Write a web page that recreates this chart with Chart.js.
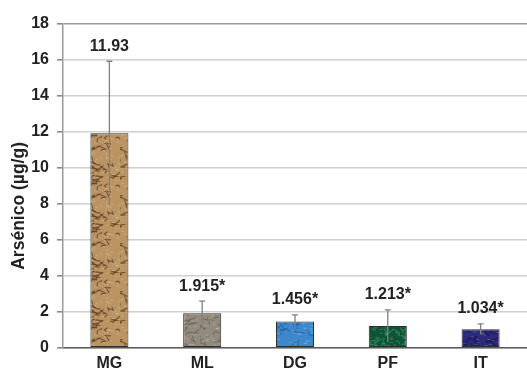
<!DOCTYPE html>
<html>
<head>
<meta charset="utf-8">
<script src="https://cdn.jsdelivr.net/npm/chart.js@4.4.1/dist/chart.umd.min.js"></script>
<style>
  html, body { margin: 0; padding: 0; background: #fff; }
  #wrap { width: 527px; height: 379px; position: relative; }
</style>
</head>
<body>
<div id="wrap"><canvas id="chart"></canvas></div>
<script>
const categories = ['MG', 'ML', 'DG', 'PF', 'IT'];
const arsenic = [11.93, 1.915, 1.456, 1.213, 1.034];
const errors = [4.0, 0.68, 0.37, 0.9, 0.3];
const valueLabels = ['11.93', '1.915*', '1.456*', '1.213*', '1.034*'];
const yTicks = [0, 2, 4, 6, 8, 10, 12, 14, 16, 18];
const yTitle = 'Arsénico (µg/g)';

const baseColors = ['#bb9464', '#928b7d', '#3d88cc', '#0e5538', '#2c2a7a'];
const inkColors = ['#5a3b1c', '#6a6356', '#2565a3', '#2c8a5a', '#1a1850'];
const FONT = '"Liberation Sans", Arial, sans-serif';

// small deterministic noise so the bar fills look like crumpled paper
function makeTexture(base, ink, seed) {
  const c = document.createElement('canvas');
  c.width = 40; c.height = 48;
  const g = c.getContext('2d');
  g.fillStyle = base;
  g.fillRect(0, 0, 40, 48);
  let s = seed;
  const rnd = () => { s = (s * 16807) % 2147483647; return s / 2147483647; };
  g.strokeStyle = ink;
  g.globalAlpha = 0.7;
  g.lineWidth = 1.2;
  for (let i = 0; i < 34; i++) {
    const x = rnd() * 40, y = rnd() * 48;
    g.beginPath();
    g.moveTo(x, y);
    g.lineTo(x + (rnd() - 0.5) * 14, y + (rnd() - 0.5) * 8);
    g.lineTo(x + (rnd() - 0.5) * 14, y + (rnd() - 0.5) * 12);
    g.stroke();
  }
  g.fillStyle = '#ffffff';
  g.globalAlpha = 0.18;
  for (let i = 0; i < 70; i++) {
    g.fillRect(rnd() * 40, rnd() * 48, 3, 1);
  }
  return g.createPattern(c, 'repeat');
}
const fills = baseColors.map((b, i) => makeTexture(b, inkColors[i], 1234 + i * 97));

const errorBars = {
  id: 'errorBars',
  afterDatasetsDraw(chart) {
    const ctx = chart.ctx;
    const meta = chart.getDatasetMeta(0);
    const y = chart.scales.y;
    ctx.save();
    ctx.strokeStyle = '#808080';
    ctx.lineWidth = 1.3;
    meta.data.forEach((bar, i) => {
      const top = y.getPixelForValue(arsenic[i] + errors[i]);
      const low = y.getPixelForValue(arsenic[i] - errors[i]);
      ctx.beginPath();
      ctx.moveTo(bar.x, low);
      ctx.lineTo(bar.x, top);
      ctx.moveTo(bar.x - 3, top);
      ctx.lineTo(bar.x + 3, top);
      ctx.stroke();
      ctx.fillStyle = '#222222';
      ctx.font = 'bold 16px ' + FONT;
      ctx.textAlign = 'center';
      ctx.textBaseline = 'bottom';
      ctx.fillText(valueLabels[i], bar.x, top - 7);
    });
    ctx.restore();
  }
};

// rotated axis title, set a little below the middle of the axis
const axisTitle = {
  id: 'axisTitle',
  afterDraw(chart) {
    const ctx = chart.ctx;
    const area = chart.chartArea;
    ctx.save();
    ctx.translate(19, (area.top + area.bottom) / 2 + 20);
    ctx.rotate(-Math.PI / 2);
    ctx.fillStyle = '#222222';
    ctx.font = 'bold 17.5px ' + FONT;
    ctx.textAlign = 'center';
    ctx.textBaseline = 'middle';
    ctx.fillText(yTitle, 0, 0);
    ctx.restore();
  }
};

new Chart(document.getElementById('chart'), {
  type: 'bar',
  data: {
    labels: categories,
    datasets: [{
      data: arsenic,
      backgroundColor: fills,
      borderColor: '#2e2e2e',
      borderWidth: 1,
      borderSkipped: false,
      barPercentage: 0.41,
      categoryPercentage: 1.0
    }]
  },
  options: {
    responsive: true,
    maintainAspectRatio: false,
    animation: false,
    layout: { padding: { top: 24, right: 0, bottom: 0, left: 0 } },
    plugins: { legend: { display: false }, tooltip: { enabled: false } },
    scales: {
      x: {
        grid: { display: false, drawTicks: false },
        border: { color: '#5a5a5a', width: 1.5 },
        ticks: {
          color: '#222222',
          font: { family: FONT, size: 16, weight: 'bold' },
          padding: 6
        }
      },
      y: {
        min: 0,
        max: 18,
        afterBuildTicks(scale) { scale.ticks = yTicks.map(v => ({ value: v })); },
        afterFit(scale) { scale.width = 63; },
        grid: {
          color: (c) => c.tick && c.tick.value === 18 ? '#9a9a9a' : '#d0d0d0',
          lineWidth: 1.6,
          tickLength: 6,
          tickColor: '#888888'
        },
        border: { color: '#9a9a9a', width: 1.5 },
        ticks: {
          color: '#222222',
          font: { family: FONT, size: 16, weight: 'bold' },
          padding: 8
        }
      }
    }
  },
  plugins: [errorBars, axisTitle]
});
</script>
</body>
</html>
